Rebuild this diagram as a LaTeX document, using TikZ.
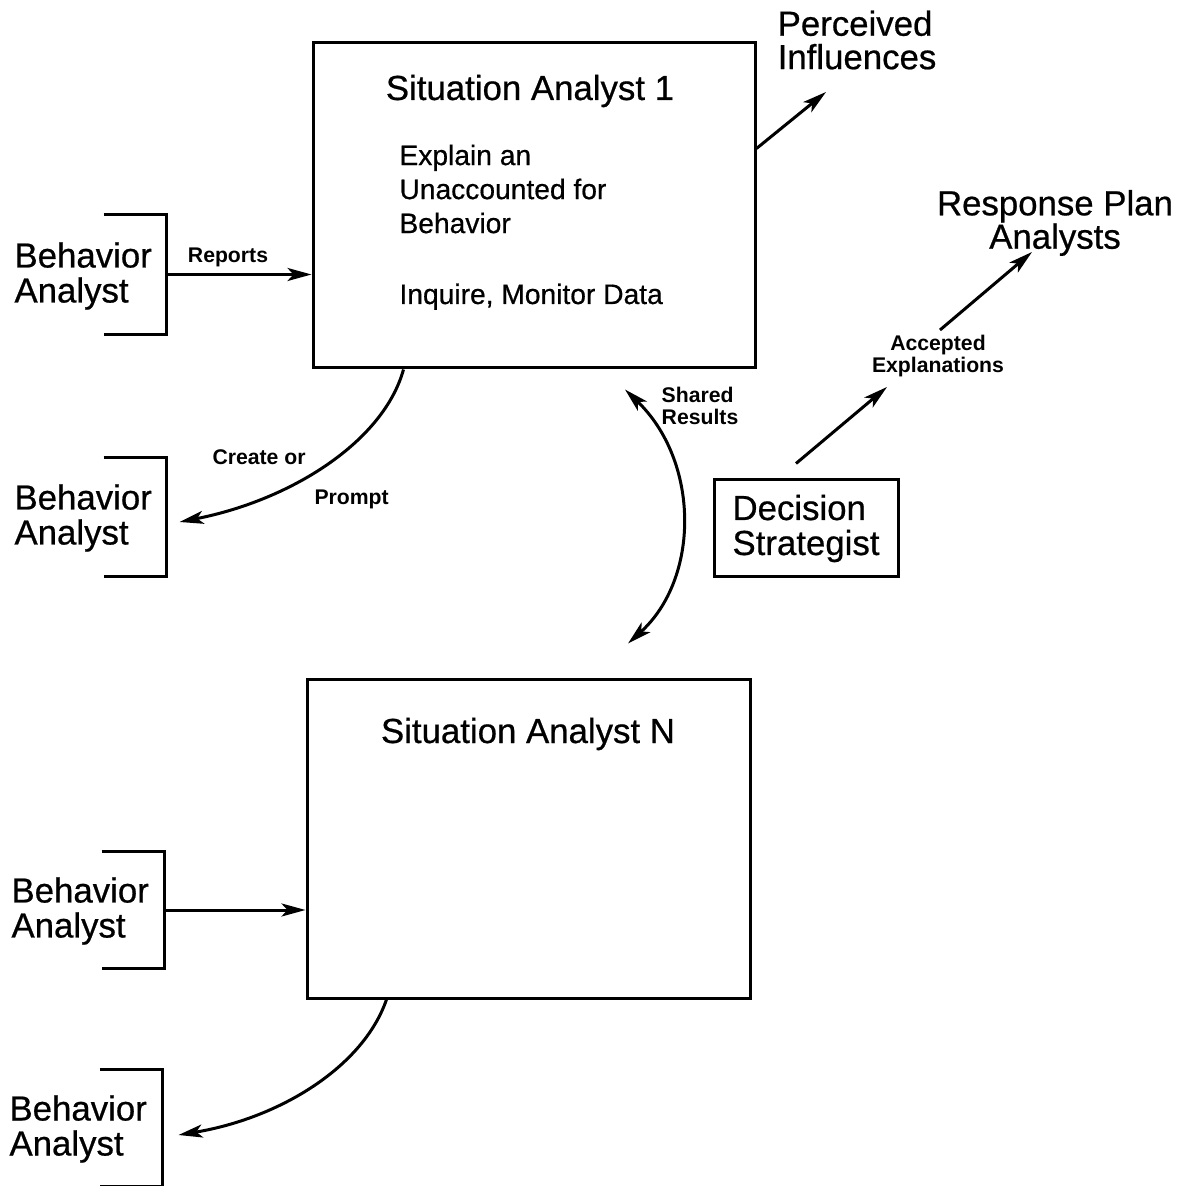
\documentclass[tikz,border=0pt]{standalone}
\usepackage{fontspec}
\setmainfont{Liberation Sans}[UprightFeatures={FakeBold=0.6}]
\usetikzlibrary{arrows.meta,calc}

\begin{document}
\begin{tikzpicture}[x=0.5pt,y=-0.5pt,
  line width=1.5pt,
  box/.style={draw, line width=1.5pt, inner sep=0pt},
  label/.style={inner sep=0pt},
  bigtext/.style={label, font=\fontsize{17.4}{17.5}\selectfont},
  bodytext/.style={label, font=\fontsize{14.1}{17}\selectfont},
  smalltext/.style={label, font=\fontsize{10.6}{11}\selectfont\bfseries},
  outtext/.style={label, font=\fontsize{17.4}{16.7}\selectfont},
  bracketbox/.style={minimum width=30pt, inner sep=0pt},
  tip/.tip={Stealth[length=12pt,width=6.5pt,inset=3pt]},
  arr/.style={-tip, line width=1.5pt},
  dblarr/.style={tip-tip, line width=1.5pt},
]
\fill[white] (0,0) rectangle (1188,1186);
\useasboundingbox (0,0) rectangle (1188,1186);

% situation analyst boxes
\node[box, minimum width=221pt, minimum height=162.5pt] (sa1) at (534,205.5) {};
\node[bigtext, anchor=base] (sa1t) at (530,100) {Situation Analyst 1};
\node[bodytext, align=left, anchor=west] (sa1a) at (398,189) {Explain an\\Unaccounted for\\Behavior};
\node[bodytext, anchor=base west] (sa1b) at (398,304) {Inquire, Monitor Data};

\node[box, minimum width=221.5pt, minimum height=159pt] (san) at (528.5,839) {};
\node[bigtext, anchor=base] (sant) at (528,743) {Situation Analyst N};

% decision strategist
\node[box, bigtext, align=left, minimum width=92pt, minimum height=48.5pt] (ds) at (806,528.5) {Decision\\Strategist};

% behavior analysts with their brackets
\node[bracketbox, minimum height=58.5pt] (br1) at (135,274.5) {};
\node[bracketbox, minimum height=58pt] (br2) at (135,517) {};
\node[bracketbox, minimum height=57pt] (br3) at (133,910) {};
\node[bracketbox, minimum height=57pt] (br4) at (131,1128) {};
\foreach \b in {br1,br2,br3,br4}
  \draw (\b.north west) -- (\b.north east) -- (\b.south east) -- (\b.south west);

\node[bigtext, align=left, anchor=west] (ba1) at (13,276) {Behavior\\Analyst};
\node[bigtext, align=left, anchor=west] (ba2) at (13,518) {Behavior\\Analyst};
\node[bigtext, align=left, anchor=west] (ba3) at (10,911) {Behavior\\Analyst};
\node[bigtext, align=left, anchor=west] (ba4) at (8,1129) {Behavior\\Analyst};

% outside labels
\node[outtext, align=left] (pi) at (857,40) {Perceived\\Influences};
\node[outtext, align=center] (rp) at (1055,223) {Response Plan\\Analysts};
\node[smalltext, align=center] (ae) at (938,356) {Accepted\\Explanations};
\node[smalltext, align=left] (sr) at (700,406) {Shared\\Results};
\node[smalltext, anchor=base] (rep) at (228,263) {Reports};
\node[smalltext, anchor=base west] (cr1) at (211,465) {Create or};
\node[smalltext, anchor=base west] (cr2) at (313,505) {Prompt};

% connectors
\draw[arr] (br1.east) -- (sa1.west |- br1.east);
\draw[arr] (br3.east) -- (san.west |- br3.east);

\draw[arr] ($(sa1.south west)+(92,0)$) .. controls +(-20,72) and +(112,-22) .. ($(br2.east)+(13,5)$);
\draw[arr] ($(san.south west)+(81,0)$) .. controls +(-23,67) and +(102,-17) .. ($(br4.east)+(16,7)$);

\draw[dblarr] ($(sa1.south)+(91,20)$) .. controls +(75,72) and +(72,-65) .. ($(san.north)+(99.5,-35)$);

\draw[arr] ($(sa1.north east)+(0,107)$) -- ($(pi.center)+(-31,52)$);

\draw[arr] ($(ds.north)+(-10,-15)$) -- ($(ae.center)+(-51,31)$);
\draw[arr] ($(ae.center)+(2,-26)$) -- ($(rp.center)+(-23,29)$);

\end{tikzpicture}
\end{document}
